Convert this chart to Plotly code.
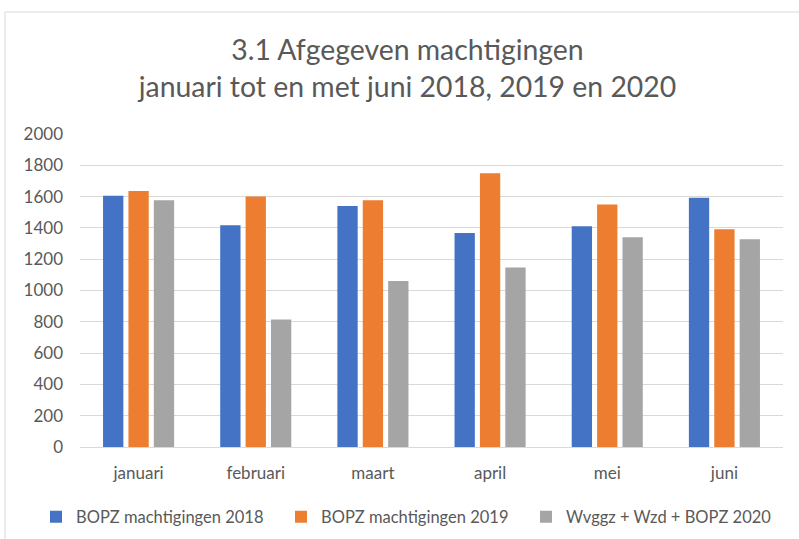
import plotly.graph_objects as go

months = ["januari", "februari", "maart", "april", "mei", "juni"]
s2018 = [1605, 1417, 1540, 1368, 1411, 1592]
s2019 = [1635, 1600, 1577, 1749, 1549, 1392]
s2020 = [1577, 815, 1060, 1147, 1340, 1327]
names = ["BOPZ machtigingen 2018", "BOPZ machtigingen 2019", "Wvggz + Wzd + BOPZ 2020"]
colors = ["#4472C4", "#ED7D31", "#A5A5A5"]

fig = go.Figure()
for name, vals, c in zip(names, [s2018, s2019, s2020], colors):
    fig.add_trace(go.Bar(x=months, y=vals, name=name, marker=dict(color=c, line=dict(width=0))))

font = "Lato, Open Sans, sans-serif"
L, R, T, B = 80, 16, 134, 92
PW, PH = 799 - L - R, 539 - T - B
fig.update_layout(
    width=799, height=539,
    margin=dict(l=L, r=R, t=T, b=B, autoexpand=False),
    paper_bgcolor="white", plot_bgcolor="white",
    barmode="group", bargap=0.35, bargroupgap=0.2,
    font=dict(family=font, color="#595959", size=17),
    title=dict(text="3.1 Afgegeven machtigingen<br>januari tot en met juni 2018, 2019 en 2020",
               x=407.5 / 799, xanchor="center", xref="container",
               y=1 - 60 / 539, yanchor="middle", yref="container",
               font=dict(size=28.4, color="#595959", family=font)),
    yaxis=dict(range=[0, 2000], dtick=200, gridcolor="#D9D9D9", gridwidth=1,
               zeroline=False, showline=False, ticks="", ticklabelstandoff=16,
               automargin=False, tickfont=dict(size=17, color="#595959")),
    xaxis=dict(showline=True, linecolor="#D9D9D9", linewidth=1, ticks="",
               automargin=False, ticklabelstandoff=11,
               tickfont=dict(size=17, color="#595959")),
    legend=dict(orientation="h", xref="paper", yref="paper",
                x=(36 - L) / PW, xanchor="left", y=(447 - 517) / PH, yanchor="middle",
                font=dict(size=16.5, color="#595959"), itemwidth=30,
                entrywidth=200, entrywidthmode="pixels",
                traceorder="normal"),
    shapes=[dict(type="rect", xref="paper", yref="paper",
                 x0=(5 - L) / PW, x1=1.2, y0=-0.5, y1=(447 - 12) / PH,
                 line=dict(color="#D9D9D9", width=1), fillcolor="rgba(0,0,0,0)", layer="below")],
)
fig.write_html("out.html")
